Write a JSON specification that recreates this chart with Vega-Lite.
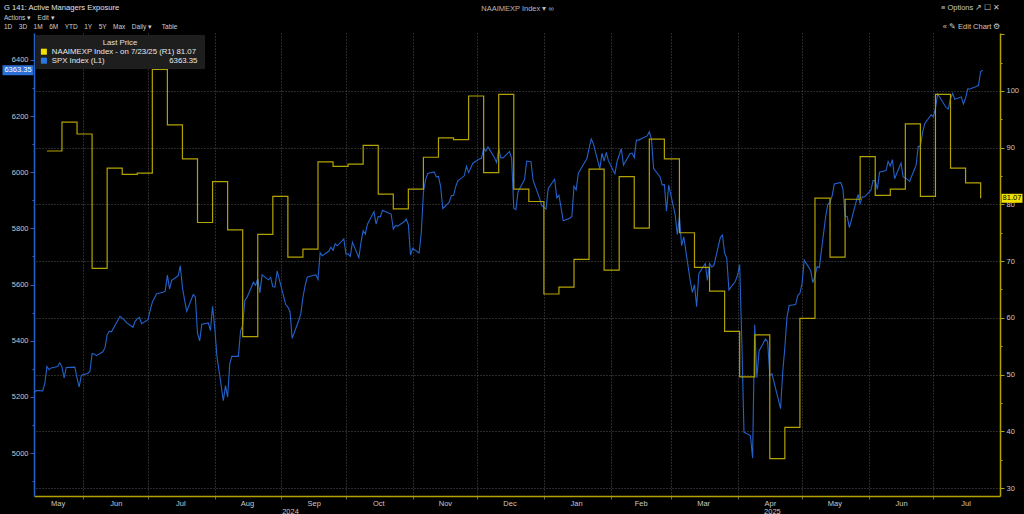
{
 "$schema": "https://vega.github.io/schema/vega-lite/v6.json",
 "width": 966,
 "height": 463,
 "autosize": {"type": "none"},
 "padding": {"left": 34, "top": 33, "right": 24, "bottom": 18},
 "background": "#000000",
 "title": {
  "text": "G 141: Active Managers Exposure",
  "subtitle": ["Actions ▾\u2002\u2002Edit ▾", "\u2002\u20091D\u2002\u20023D\u2002\u20021M\u2002\u20026M\u2002\u2002YTD\u2002\u20021Y\u2002\u20025Y\u2002\u2002Max\u2002\u2002Daily ▾\u2002\u2002\u2002Table"],
  "anchor": "start",
  "frame": "group",
  "dx": -30,
  "offset": -27,
  "fontSize": 7.6,
  "fontWeight": "normal",
  "color": "#e0e0e0",
  "subtitleColor": "#cfcfcf",
  "subtitleFontSize": 6.5,
  "subtitlePadding": 3,
  "subtitleLineHeight": 9
 },
 "datasets": {
  "spx": [
   {"date":"2024-05-09","spx":5214.08},{"date":"2024-05-10","spx":5222.68},{"date":"2024-05-13","spx":5221.42},{"date":"2024-05-14","spx":5246.68},{"date":"2024-05-15","spx":5308.15},{"date":"2024-05-16","spx":5297.10},{"date":"2024-05-17","spx":5303.27},{"date":"2024-05-20","spx":5308.13},{"date":"2024-05-21","spx":5321.41},{"date":"2024-05-22","spx":5307.01},{"date":"2024-05-23","spx":5267.84},{"date":"2024-05-24","spx":5304.72},{"date":"2024-05-28","spx":5306.04},{"date":"2024-05-29","spx":5266.95},{"date":"2024-05-30","spx":5235.48},{"date":"2024-05-31","spx":5277.51},
   {"date":"2024-06-03","spx":5283.40},{"date":"2024-06-04","spx":5291.34},{"date":"2024-06-05","spx":5354.03},{"date":"2024-06-06","spx":5352.96},{"date":"2024-06-07","spx":5346.99},{"date":"2024-06-10","spx":5360.79},{"date":"2024-06-11","spx":5375.32},{"date":"2024-06-12","spx":5421.03},{"date":"2024-06-13","spx":5433.74},{"date":"2024-06-14","spx":5431.60},{"date":"2024-06-17","spx":5473.23},{"date":"2024-06-18","spx":5487.03},{"date":"2024-06-20","spx":5473.17},{"date":"2024-06-21","spx":5464.62},{"date":"2024-06-24","spx":5447.87},{"date":"2024-06-25","spx":5469.30},{"date":"2024-06-26","spx":5477.90},{"date":"2024-06-27","spx":5482.87},{"date":"2024-06-28","spx":5460.48},
   {"date":"2024-07-01","spx":5475.09},{"date":"2024-07-02","spx":5509.01},{"date":"2024-07-03","spx":5537.02},{"date":"2024-07-05","spx":5567.19},{"date":"2024-07-08","spx":5572.85},{"date":"2024-07-09","spx":5576.98},{"date":"2024-07-10","spx":5633.91},{"date":"2024-07-11","spx":5584.54},{"date":"2024-07-12","spx":5615.35},{"date":"2024-07-15","spx":5631.22},{"date":"2024-07-16","spx":5667.20},{"date":"2024-07-17","spx":5588.27},{"date":"2024-07-18","spx":5544.59},{"date":"2024-07-19","spx":5505.00},{"date":"2024-07-22","spx":5564.41},{"date":"2024-07-23","spx":5555.74},{"date":"2024-07-24","spx":5427.13},{"date":"2024-07-25","spx":5399.22},{"date":"2024-07-26","spx":5459.10},{"date":"2024-07-29","spx":5463.54},{"date":"2024-07-30","spx":5436.44},{"date":"2024-07-31","spx":5522.30},
   {"date":"2024-08-01","spx":5446.68},{"date":"2024-08-02","spx":5346.56},{"date":"2024-08-05","spx":5186.33},{"date":"2024-08-06","spx":5240.03},{"date":"2024-08-07","spx":5199.50},{"date":"2024-08-08","spx":5319.31},{"date":"2024-08-09","spx":5344.16},{"date":"2024-08-12","spx":5344.39},{"date":"2024-08-13","spx":5434.43},{"date":"2024-08-14","spx":5455.21},{"date":"2024-08-15","spx":5543.22},{"date":"2024-08-16","spx":5554.25},{"date":"2024-08-19","spx":5608.25},{"date":"2024-08-20","spx":5597.12},{"date":"2024-08-21","spx":5620.85},{"date":"2024-08-22","spx":5570.64},{"date":"2024-08-23","spx":5634.61},{"date":"2024-08-26","spx":5616.84},{"date":"2024-08-27","spx":5625.80},{"date":"2024-08-28","spx":5592.18},{"date":"2024-08-29","spx":5591.96},{"date":"2024-08-30","spx":5648.40},
   {"date":"2024-09-03","spx":5528.93},{"date":"2024-09-04","spx":5520.07},{"date":"2024-09-05","spx":5503.41},{"date":"2024-09-06","spx":5408.42},{"date":"2024-09-09","spx":5471.05},{"date":"2024-09-10","spx":5495.52},{"date":"2024-09-11","spx":5554.13},{"date":"2024-09-12","spx":5595.76},{"date":"2024-09-13","spx":5626.02},{"date":"2024-09-16","spx":5633.09},{"date":"2024-09-17","spx":5634.58},{"date":"2024-09-18","spx":5618.26},{"date":"2024-09-19","spx":5713.64},{"date":"2024-09-20","spx":5702.55},{"date":"2024-09-23","spx":5718.57},{"date":"2024-09-24","spx":5732.93},{"date":"2024-09-25","spx":5722.26},{"date":"2024-09-26","spx":5745.37},{"date":"2024-09-27","spx":5738.17},{"date":"2024-09-30","spx":5762.48},
   {"date":"2024-10-01","spx":5708.75},{"date":"2024-10-02","spx":5709.54},{"date":"2024-10-03","spx":5699.94},{"date":"2024-10-04","spx":5751.07},{"date":"2024-10-07","spx":5695.94},{"date":"2024-10-08","spx":5751.13},{"date":"2024-10-09","spx":5792.04},{"date":"2024-10-10","spx":5780.05},{"date":"2024-10-11","spx":5815.03},{"date":"2024-10-14","spx":5859.85},{"date":"2024-10-15","spx":5815.26},{"date":"2024-10-16","spx":5842.47},{"date":"2024-10-17","spx":5841.47},{"date":"2024-10-18","spx":5864.67},{"date":"2024-10-21","spx":5853.98},{"date":"2024-10-22","spx":5851.20},{"date":"2024-10-23","spx":5797.42},{"date":"2024-10-24","spx":5809.86},{"date":"2024-10-25","spx":5808.12},{"date":"2024-10-28","spx":5823.52},{"date":"2024-10-29","spx":5832.92},{"date":"2024-10-30","spx":5813.67},{"date":"2024-10-31","spx":5705.45},
   {"date":"2024-11-01","spx":5728.80},{"date":"2024-11-04","spx":5712.69},{"date":"2024-11-05","spx":5782.76},{"date":"2024-11-06","spx":5929.04},{"date":"2024-11-07","spx":5973.10},{"date":"2024-11-08","spx":5995.54},{"date":"2024-11-11","spx":6001.35},{"date":"2024-11-12","spx":5983.99},{"date":"2024-11-13","spx":5985.38},{"date":"2024-11-14","spx":5949.17},{"date":"2024-11-15","spx":5870.62},{"date":"2024-11-18","spx":5893.62},{"date":"2024-11-19","spx":5916.98},{"date":"2024-11-20","spx":5917.11},{"date":"2024-11-21","spx":5948.71},{"date":"2024-11-22","spx":5969.34},{"date":"2024-11-25","spx":5987.37},{"date":"2024-11-26","spx":6021.63},{"date":"2024-11-27","spx":5998.74},{"date":"2024-11-29","spx":6032.38},
   {"date":"2024-12-02","spx":6047.15},{"date":"2024-12-03","spx":6049.88},{"date":"2024-12-04","spx":6086.49},{"date":"2024-12-05","spx":6075.11},{"date":"2024-12-06","spx":6090.27},{"date":"2024-12-09","spx":6052.85},{"date":"2024-12-10","spx":6034.91},{"date":"2024-12-11","spx":6084.19},{"date":"2024-12-12","spx":6051.25},{"date":"2024-12-13","spx":6051.09},{"date":"2024-12-16","spx":6074.08},{"date":"2024-12-17","spx":6050.61},{"date":"2024-12-18","spx":5872.16},{"date":"2024-12-19","spx":5867.08},{"date":"2024-12-20","spx":5930.85},{"date":"2024-12-23","spx":5974.07},{"date":"2024-12-24","spx":6040.04},{"date":"2024-12-26","spx":6037.59},{"date":"2024-12-27","spx":5970.84},{"date":"2024-12-30","spx":5906.94},{"date":"2024-12-31","spx":5881.63},
   {"date":"2025-01-02","spx":5868.55},{"date":"2025-01-03","spx":5942.47},{"date":"2025-01-06","spx":5975.38},{"date":"2025-01-07","spx":5909.03},{"date":"2025-01-08","spx":5918.25},{"date":"2025-01-10","spx":5827.04},{"date":"2025-01-13","spx":5836.22},{"date":"2025-01-14","spx":5842.91},{"date":"2025-01-15","spx":5949.91},{"date":"2025-01-16","spx":5937.34},{"date":"2025-01-17","spx":5996.66},{"date":"2025-01-21","spx":6049.24},{"date":"2025-01-22","spx":6086.37},{"date":"2025-01-23","spx":6118.71},{"date":"2025-01-24","spx":6101.24},{"date":"2025-01-27","spx":6012.28},{"date":"2025-01-28","spx":6067.70},{"date":"2025-01-29","spx":6039.31},{"date":"2025-01-30","spx":6071.17},{"date":"2025-01-31","spx":6040.53},
   {"date":"2025-02-03","spx":5994.57},{"date":"2025-02-04","spx":6037.88},{"date":"2025-02-05","spx":6061.48},{"date":"2025-02-06","spx":6083.57},{"date":"2025-02-07","spx":6025.99},{"date":"2025-02-10","spx":6066.44},{"date":"2025-02-11","spx":6068.50},{"date":"2025-02-12","spx":6051.97},{"date":"2025-02-13","spx":6115.07},{"date":"2025-02-14","spx":6114.63},{"date":"2025-02-18","spx":6129.58},{"date":"2025-02-19","spx":6144.15},{"date":"2025-02-20","spx":6117.52},{"date":"2025-02-21","spx":6013.13},{"date":"2025-02-24","spx":5983.25},{"date":"2025-02-25","spx":5955.25},{"date":"2025-02-26","spx":5956.06},{"date":"2025-02-27","spx":5861.57},{"date":"2025-02-28","spx":5954.50},
   {"date":"2025-03-03","spx":5849.72},{"date":"2025-03-04","spx":5778.15},{"date":"2025-03-05","spx":5842.63},{"date":"2025-03-06","spx":5738.52},{"date":"2025-03-07","spx":5770.20},{"date":"2025-03-10","spx":5614.56},{"date":"2025-03-11","spx":5572.07},{"date":"2025-03-12","spx":5599.30},{"date":"2025-03-13","spx":5521.52},{"date":"2025-03-14","spx":5638.94},{"date":"2025-03-17","spx":5675.12},{"date":"2025-03-18","spx":5614.66},{"date":"2025-03-19","spx":5675.29},{"date":"2025-03-20","spx":5662.89},{"date":"2025-03-21","spx":5667.56},{"date":"2025-03-24","spx":5767.57},{"date":"2025-03-25","spx":5776.65},{"date":"2025-03-26","spx":5712.20},{"date":"2025-03-27","spx":5693.31},{"date":"2025-03-28","spx":5580.94},{"date":"2025-03-31","spx":5611.85},
   {"date":"2025-04-01","spx":5633.07},{"date":"2025-04-02","spx":5670.97},{"date":"2025-04-03","spx":5396.52},{"date":"2025-04-04","spx":5074.08},{"date":"2025-04-07","spx":5062.25},{"date":"2025-04-08","spx":4982.77},{"date":"2025-04-09","spx":5456.90},{"date":"2025-04-10","spx":5268.05},{"date":"2025-04-11","spx":5363.36},{"date":"2025-04-14","spx":5405.97},{"date":"2025-04-15","spx":5396.63},{"date":"2025-04-16","spx":5275.70},{"date":"2025-04-17","spx":5282.70},{"date":"2025-04-21","spx":5158.20},{"date":"2025-04-22","spx":5287.76},{"date":"2025-04-23","spx":5375.86},{"date":"2025-04-24","spx":5484.77},{"date":"2025-04-25","spx":5525.21},{"date":"2025-04-28","spx":5528.75},{"date":"2025-04-29","spx":5560.83},{"date":"2025-04-30","spx":5569.06},
   {"date":"2025-05-01","spx":5604.14},{"date":"2025-05-02","spx":5686.67},{"date":"2025-05-05","spx":5650.38},{"date":"2025-05-06","spx":5606.91},{"date":"2025-05-07","spx":5631.28},{"date":"2025-05-08","spx":5663.94},{"date":"2025-05-09","spx":5659.91},{"date":"2025-05-12","spx":5844.19},{"date":"2025-05-13","spx":5886.55},{"date":"2025-05-14","spx":5892.58},{"date":"2025-05-15","spx":5916.93},{"date":"2025-05-16","spx":5958.38},{"date":"2025-05-19","spx":5963.60},{"date":"2025-05-20","spx":5940.46},{"date":"2025-05-21","spx":5844.61},{"date":"2025-05-22","spx":5842.01},{"date":"2025-05-23","spx":5802.82},{"date":"2025-05-27","spx":5921.54},{"date":"2025-05-28","spx":5888.55},{"date":"2025-05-29","spx":5912.17},{"date":"2025-05-30","spx":5911.69},
   {"date":"2025-06-02","spx":5935.94},{"date":"2025-06-03","spx":5970.37},{"date":"2025-06-04","spx":5970.81},{"date":"2025-06-05","spx":5939.30},{"date":"2025-06-06","spx":6000.36},{"date":"2025-06-09","spx":6005.88},{"date":"2025-06-10","spx":6038.81},{"date":"2025-06-11","spx":6022.24},{"date":"2025-06-12","spx":6045.26},{"date":"2025-06-13","spx":5976.97},{"date":"2025-06-16","spx":6033.11},{"date":"2025-06-17","spx":5982.72},{"date":"2025-06-18","spx":5980.87},{"date":"2025-06-20","spx":5967.84},{"date":"2025-06-23","spx":6025.17},{"date":"2025-06-24","spx":6092.18},{"date":"2025-06-25","spx":6092.16},{"date":"2025-06-26","spx":6141.02},{"date":"2025-06-27","spx":6173.07},{"date":"2025-06-30","spx":6204.95},
   {"date":"2025-07-01","spx":6198.01},{"date":"2025-07-02","spx":6227.42},{"date":"2025-07-03","spx":6279.35},{"date":"2025-07-07","spx":6229.98},{"date":"2025-07-08","spx":6225.52},{"date":"2025-07-09","spx":6263.26},{"date":"2025-07-10","spx":6280.46},{"date":"2025-07-11","spx":6259.75},{"date":"2025-07-14","spx":6268.56},{"date":"2025-07-15","spx":6243.76},{"date":"2025-07-16","spx":6263.70},{"date":"2025-07-17","spx":6297.36},{"date":"2025-07-18","spx":6296.79},{"date":"2025-07-21","spx":6305.60},{"date":"2025-07-22","spx":6309.62},{"date":"2025-07-23","spx":6358.91},{"date":"2025-07-24","spx":6363.35}
  ],
  "naaim": [
   {"date":"2024-05-15","naaim":89.4},{"date":"2024-05-22","naaim":94.5},{"date":"2024-05-29","naaim":92.4},{"date":"2024-06-05","naaim":68.7},{"date":"2024-06-12","naaim":86.4},{"date":"2024-06-19","naaim":85.3},{"date":"2024-06-26","naaim":85.5},{"date":"2024-07-03","naaim":103.8},{"date":"2024-07-10","naaim":94.0},{"date":"2024-07-17","naaim":88.0},{"date":"2024-07-24","naaim":76.8},{"date":"2024-07-31","naaim":84.0},{"date":"2024-08-07","naaim":75.5},{"date":"2024-08-14","naaim":56.7},{"date":"2024-08-21","naaim":74.7},{"date":"2024-08-28","naaim":81.4},{"date":"2024-09-04","naaim":70.7},{"date":"2024-09-11","naaim":72.1},{"date":"2024-09-18","naaim":87.5},{"date":"2024-09-25","naaim":86.7},{"date":"2024-10-02","naaim":87.1},{"date":"2024-10-09","naaim":90.4},{"date":"2024-10-16","naaim":81.8},{"date":"2024-10-23","naaim":79.2},{"date":"2024-10-30","naaim":82.7},{"date":"2024-11-06","naaim":88.3},{"date":"2024-11-13","naaim":91.7},{"date":"2024-11-20","naaim":91.4},{"date":"2024-11-27","naaim":99.1},{"date":"2024-12-04","naaim":85.6},{"date":"2024-12-11","naaim":99.4},{"date":"2024-12-18","naaim":82.7},{"date":"2024-12-25","naaim":80.5},{"date":"2025-01-01","naaim":64.2},{"date":"2025-01-08","naaim":65.4},{"date":"2025-01-15","naaim":70.3},{"date":"2025-01-22","naaim":86.2},{"date":"2025-01-29","naaim":68.4},{"date":"2025-02-05","naaim":84.9},{"date":"2025-02-12","naaim":75.8},{"date":"2025-02-19","naaim":91.5},{"date":"2025-02-26","naaim":88.0},{"date":"2025-03-05","naaim":75.0},{"date":"2025-03-12","naaim":68.9},{"date":"2025-03-19","naaim":64.7},{"date":"2025-03-26","naaim":57.6},{"date":"2025-04-02","naaim":49.6},{"date":"2025-04-09","naaim":57.0},{"date":"2025-04-16","naaim":35.2},{"date":"2025-04-23","naaim":40.7},{"date":"2025-04-30","naaim":59.9},{"date":"2025-05-07","naaim":81.1},{"date":"2025-05-14","naaim":70.7},{"date":"2025-05-21","naaim":80.9},{"date":"2025-05-28","naaim":88.4},{"date":"2025-06-04","naaim":81.6},{"date":"2025-06-11","naaim":82.7},{"date":"2025-06-18","naaim":94.2},{"date":"2025-06-25","naaim":81.4},{"date":"2025-07-02","naaim":99.4},{"date":"2025-07-09","naaim":86.4},{"date":"2025-07-16","naaim":83.8},{"date":"2025-07-23","naaim":81.07}
  ]
 },
 "layer": [
  {
   "data": {"name": "spx"},
   "resolve": {"axis": {"x": "independent", "y": "independent"}},
   "layer": [
    {
     "mark": {"type": "line", "strokeWidth": 1.1},
     "encoding": {
      "x": {"field": "date", "type": "temporal",
       "scale": {"type": "utc", "nice": false, "domain": [{"year":2024,"month":5,"date":9,"utc":true},{"year":2025,"month":8,"date":1,"utc":true}]},
       "axis": {"orient": "bottom", "title": null, "labels": false, "grid": true, "gridColor": "#555555", "gridDash": [1,2], "gridWidth": 1, "ticks": true, "tickSize": 3, "tickColor": "#666666", "domain": true, "domainColor": "#b3a300", "domainWidth": 1.5,
        "values": [{"year":2024,"month":6,"date":1,"utc":true},{"year":2024,"month":7,"date":1,"utc":true},{"year":2024,"month":8,"date":1,"utc":true},{"year":2024,"month":9,"date":1,"utc":true},{"year":2024,"month":10,"date":1,"utc":true},{"year":2024,"month":11,"date":1,"utc":true},{"year":2024,"month":12,"date":1,"utc":true},{"year":2025,"month":1,"date":1,"utc":true},{"year":2025,"month":2,"date":1,"utc":true},{"year":2025,"month":3,"date":1,"utc":true},{"year":2025,"month":4,"date":1,"utc":true},{"year":2025,"month":5,"date":1,"utc":true},{"year":2025,"month":6,"date":1,"utc":true},{"year":2025,"month":7,"date":1,"utc":true}]}},
      "y": {"field": "spx", "type": "quantitative",
       "scale": {"domain": [4847, 6496], "nice": false, "zero": false},
       "axis": {"orient": "left", "title": null, "grid": false, "values": [4900,5000,5100,5200,5300,5400,5500,5600,5700,5800,5900,6000,6100,6200,6300,6400],
        "labelExpr": "datum.value % 200 == 0 ? format(datum.value, 'd') : ''",
        "tickSize": {"condition": {"test": "datum.value % 200 == 0", "value": 4}, "value": 2},
        "tickColor": "#2461c9", "domainColor": "#2461c9", "domainWidth": 1.5, "labelColor": "#c8c8c8", "labelFontSize": 7.5, "labelPadding": 2}},
      "color": {"datum": "SPX Index", "type": "nominal",
       "scale": {"domain": ["NAAIMEXP Index", "SPX Index"], "range": ["#b3a300", "#2461c9"]},
       "legend": {"title": "Last Price", "orient": "top-left", "offset": 2, "fillColor": "#1e1e1e", "padding": 4, "titleAnchor": "middle", "titleColor": "#e0e0e0", "titleFontSize": 7.8, "titleFontWeight": "normal", "titlePadding": 1, "labelColor": "#e8e8e8", "labelFontSize": 7.8, "labelLimit": 400, "symbolType": "square", "symbolSize": 36, "symbolStrokeWidth": 0, "rowPadding": 0,
        "labelExpr": "datum.label == 'SPX Index' ? 'SPX Index  (L1)\u2003\u2003\u2003\u2003\u2003\u2003\u2003\u2003 6363.35' : 'NAAIMEXP Index -  on 7/23/25  (R1) 81.07'",
        "encode": {"symbols": {"update": {"fill": {"signal": "datum.value == 'NAAIMEXP Index' ? '#f0e000' : '#2a78e6'"}, "fillOpacity": {"value": 1}}}}}}
     }
    },
    {
     "transform": [{"filter": "toDate(datum.date) >= toDate('2025-07-24')"}],
     "mark": {"type": "tick", "orient": "horizontal", "size": 31, "thickness": 10, "color": "#2a6fd6", "opacity": 1, "xOffset": -16},
     "encoding": {
      "x": {"datum": {"year":2024,"month":5,"date":9,"utc":true}, "type": "temporal",
       "scale": {"type": "utc", "nice": false, "domain": [{"year":2024,"month":5,"date":9,"utc":true},{"year":2025,"month":8,"date":1,"utc":true}]},
       "axis": {"orient": "top", "title": "NAAIMEXP Index ▾  ∞", "titleAnchor": "middle", "titleColor": "#b8b8b8", "titleFontSize": 7.5, "titleFontWeight": "normal", "titlePadding": 21, "labels": false, "ticks": false, "domain": false, "grid": false}},
      "y": {"field": "spx", "type": "quantitative", "scale": {"domain": [4847, 6496], "nice": false, "zero": false}, "axis": null}
     }
    },
    {
     "transform": [{"filter": "toDate(datum.date) >= toDate('2025-07-24')"}],
     "mark": {"type": "text", "color": "#ffffff", "fontSize": 7.5, "align": "center", "baseline": "middle", "xOffset": -16},
     "encoding": {
      "x": {"datum": {"year":2024,"month":5,"date":9,"utc":true}, "type": "temporal",
       "scale": {"type": "utc", "nice": false, "domain": [{"year":2024,"month":5,"date":9,"utc":true},{"year":2025,"month":8,"date":1,"utc":true}]},
       "axis": {"orient": "top", "title": ["≡ Options   ↗  ☐  ✕", "«  ✎ Edit Chart  ⚙"], "titleAnchor": "end", "titleAlign": "right", "titleColor": "#c8c8c8", "titleFontSize": 7.5, "titleFontWeight": "normal", "titleLineHeight": 19, "titlePadding": 3, "labels": false, "ticks": false, "domain": false, "grid": false}},
      "y": {"field": "spx", "type": "quantitative", "scale": {"domain": [4847, 6496], "nice": false, "zero": false}, "axis": null},
      "text": {"field": "spx", "type": "quantitative", "format": ".2f"}
     }
    }
   ]
  },
  {
   "data": {"name": "naaim"},
   "resolve": {"axis": {"x": "independent", "y": "independent"}},
   "layer": [
    {
     "mark": {"type": "line", "strokeWidth": 1.2, "interpolate": "step-after"},
     "encoding": {
      "x": {"field": "date", "type": "temporal",
       "scale": {"type": "utc", "nice": false, "domain": [{"year":2024,"month":5,"date":9,"utc":true},{"year":2025,"month":8,"date":1,"utc":true}]},
       "axis": {"orient": "bottom", "title": null, "grid": false, "ticks": false, "tickSize": 0, "domain": false, "labelPadding": 3, "labelColor": "#c8c8c8", "labelFontSize": 7.5, "labelOverlap": false, "labelFlush": false,
        "labelExpr": "utcFormat(datum.value, '%b')",
        "values": [{"year":2024,"month":5,"date":20,"utc":true},{"year":2024,"month":6,"date":16,"utc":true},{"year":2024,"month":7,"date":16,"utc":true},{"year":2024,"month":8,"date":16,"utc":true},{"year":2024,"month":9,"date":16,"utc":true},{"year":2024,"month":10,"date":16,"utc":true},{"year":2024,"month":11,"date":16,"utc":true},{"year":2024,"month":12,"date":16,"utc":true},{"year":2025,"month":1,"date":16,"utc":true},{"year":2025,"month":2,"date":15,"utc":true},{"year":2025,"month":3,"date":16,"utc":true},{"year":2025,"month":4,"date":16,"utc":true},{"year":2025,"month":5,"date":16,"utc":true},{"year":2025,"month":6,"date":16,"utc":true},{"year":2025,"month":7,"date":16,"utc":true}]}},
      "y": {"field": "naaim", "type": "quantitative",
       "scale": {"domain": [28.6, 110.2], "nice": false, "zero": false},
       "axis": {"orient": "right", "title": null, "values": [30,35,40,45,50,55,60,65,70,75,80,85,90,95,100,105,110],
        "labelExpr": "datum.value % 10 == 0 && datum.value < 110 ? format(datum.value, 'd') : ''",
        "tickSize": {"condition": {"test": "datum.value % 10 == 0", "value": 4}, "value": 2},
        "grid": true, "gridColor": "#555555", "gridDash": [1,2], "gridWidth": 1,
        "gridOpacity": {"condition": {"test": "datum.value % 10 == 0 && datum.value < 110", "value": 1}, "value": 0},
        "tickColor": "#b3a300", "domainColor": "#b3a300", "domainWidth": 1.5, "labelColor": "#c8c8c8", "labelFontSize": 7.5, "labelPadding": 2}},
      "color": {"datum": "NAAIMEXP Index", "type": "nominal",
       "scale": {"domain": ["NAAIMEXP Index", "SPX Index"], "range": ["#b3a300", "#2461c9"]},
       "legend": {"title": "Last Price", "orient": "top-left", "offset": 2, "fillColor": "#1e1e1e", "padding": 4, "titleAnchor": "middle", "titleColor": "#e0e0e0", "titleFontSize": 7.8, "titleFontWeight": "normal", "titlePadding": 1, "labelColor": "#e8e8e8", "labelFontSize": 7.8, "labelLimit": 400, "symbolType": "square", "symbolSize": 36, "symbolStrokeWidth": 0, "rowPadding": 0,
        "labelExpr": "datum.label == 'SPX Index' ? 'SPX Index  (L1)\u2003\u2003\u2003\u2003\u2003\u2003\u2003\u2003 6363.35' : 'NAAIMEXP Index -  on 7/23/25  (R1) 81.07'",
        "encode": {"symbols": {"update": {"fill": {"signal": "datum.value == 'NAAIMEXP Index' ? '#f0e000' : '#2a78e6'"}, "fillOpacity": {"value": 1}}}}}}
     }
    },
    {
     "transform": [{"filter": "toDate(datum.date) >= toDate('2025-07-23')"}],
     "mark": {"type": "tick", "orient": "horizontal", "size": 21, "thickness": 9, "color": "#f0e000", "opacity": 1, "xOffset": 12},
     "encoding": {
      "x": {"datum": {"year":2025,"month":8,"date":1,"utc":true}, "type": "temporal",
       "scale": {"type": "utc", "nice": false, "domain": [{"year":2024,"month":5,"date":9,"utc":true},{"year":2025,"month":8,"date":1,"utc":true}]}, "axis": null},
      "y": {"field": "naaim", "type": "quantitative", "scale": {"domain": [28.6, 110.2], "nice": false, "zero": false}, "axis": null}
     }
    },
    {
     "transform": [{"filter": "toDate(datum.date) >= toDate('2025-07-23')"}],
     "mark": {"type": "text", "color": "#000000", "fontSize": 7.5, "align": "center", "baseline": "middle", "xOffset": 12},
     "encoding": {
      "x": {"datum": {"year":2025,"month":8,"date":1,"utc":true}, "type": "temporal",
       "scale": {"type": "utc", "nice": false, "domain": [{"year":2024,"month":5,"date":9,"utc":true},{"year":2025,"month":8,"date":1,"utc":true}]},
       "axis": {"orient": "bottom", "title": null, "grid": false, "ticks": false, "tickSize": 0, "domain": false, "labelPadding": 11, "labelColor": "#c8c8c8", "labelFontSize": 7.5, "labelOverlap": false, "labelFlush": false,
        "labelExpr": "utcFormat(datum.value, '%Y')",
        "values": [{"year":2024,"month":9,"date":5,"utc":true},{"year":2025,"month":4,"date":17,"utc":true}]}},
      "y": {"field": "naaim", "type": "quantitative", "scale": {"domain": [28.6, 110.2], "nice": false, "zero": false}, "axis": null},
      "text": {"field": "naaim", "type": "quantitative", "format": ".2f"}
     }
    }
   ]
  }
 ],
 "resolve": {"scale": {"y": "independent"}, "axis": {"x": "independent", "y": "independent"}},
 "config": {
  "font": "Liberation Sans Narrow, Arial Narrow, Liberation Sans, sans-serif",
  "view": {"stroke": null},
  "axis": {"labelFont": "Liberation Sans Narrow, Arial Narrow, Liberation Sans, sans-serif", "titleFont": "Liberation Sans Narrow, Arial Narrow, Liberation Sans, sans-serif"},
  "legend": {"labelFont": "Liberation Sans Narrow, Arial Narrow, Liberation Sans, sans-serif", "titleFont": "Liberation Sans Narrow, Arial Narrow, Liberation Sans, sans-serif"}
 }
}
